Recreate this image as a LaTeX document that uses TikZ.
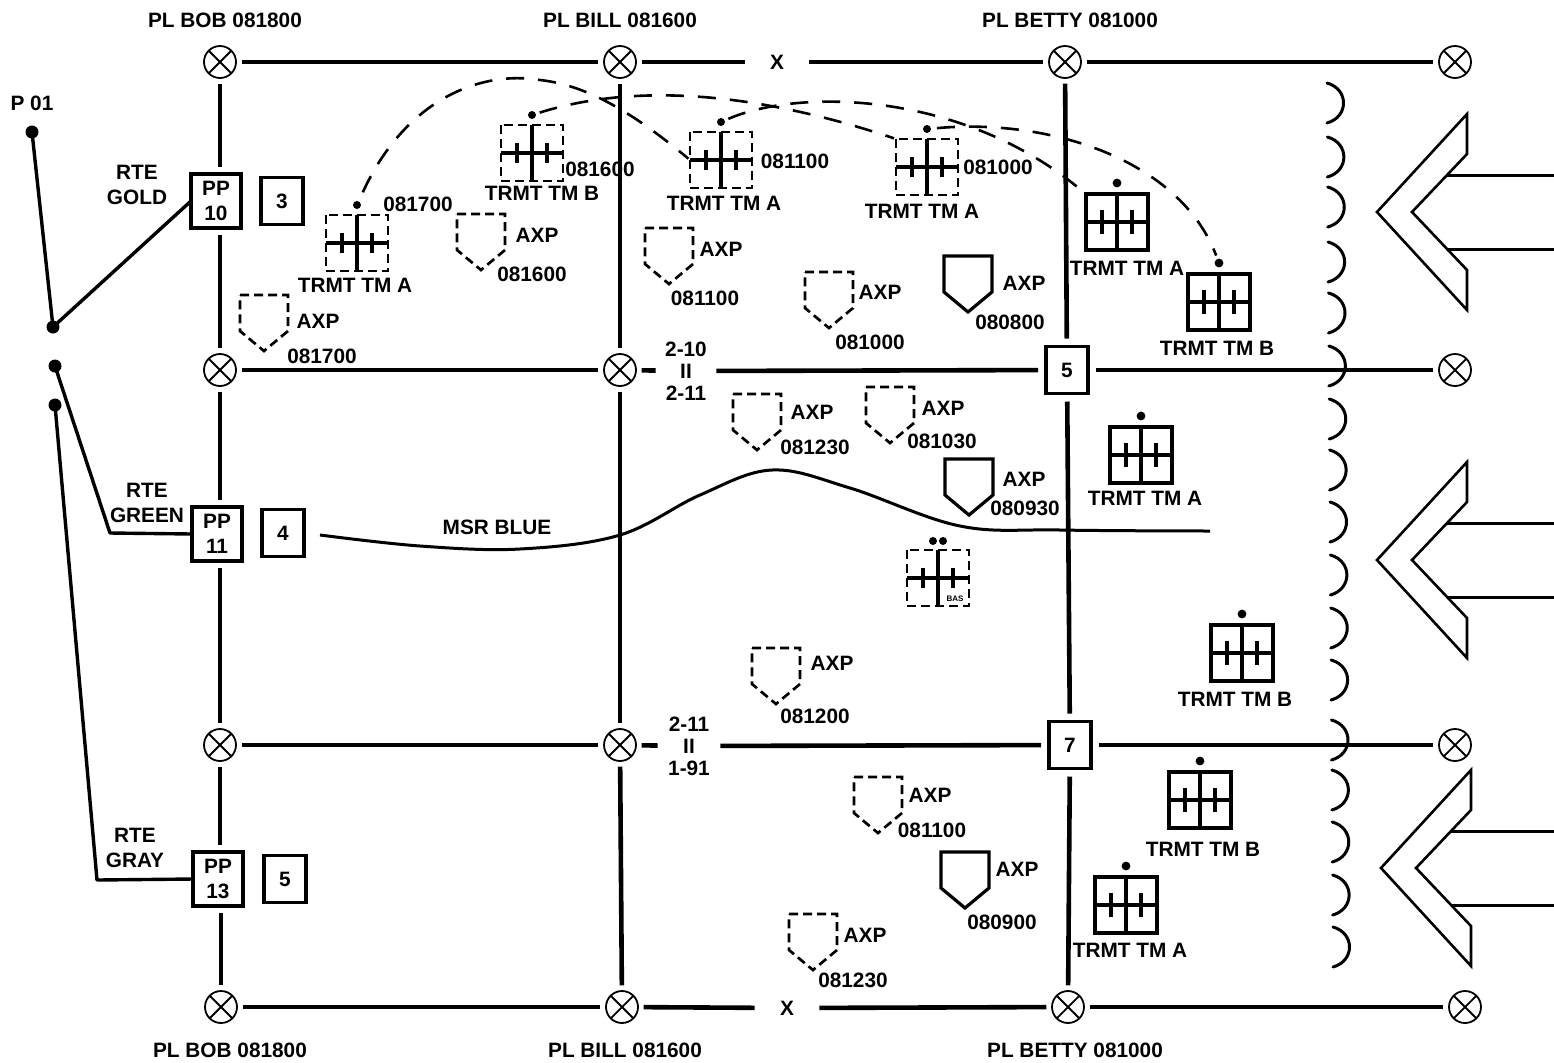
\documentclass[tikz,border=0pt]{standalone}
\usepackage{fontspec}
\setmainfont{Liberation Sans}
\usetikzlibrary{calc}
\begin{document}
\begin{tikzpicture}[x=0.5pt,y=-0.5pt,
 every node/.style={font=\bfseries\fontsize{10.4}{12.5}\selectfont},
 lab/.style={inner sep=0pt, align=center},
 cx/.style={circle, draw, line width=0.9pt, minimum size=16pt, inner sep=0pt, outer sep=2.8pt,
   path picture={\draw[line width=0.9pt] (path picture bounding box.north west) -- (path picture bounding box.south east)
     (path picture bounding box.north east) -- (path picture bounding box.south west);}},
 grid/.style={line width=2.3pt},
 route/.style={line width=1.7pt, line join=round},
 msr/.style={line width=1.5pt},
 ppbox/.style={draw, line width=1.6pt, minimum width=25pt, minimum height=27pt, inner sep=0pt, outer sep=0pt, align=center},
 numbox/.style={draw, line width=1.6pt, minimum width=21pt, minimum height=23.5pt, inner sep=0pt, outer sep=4pt},
 dotn/.style={circle, fill, inner sep=0pt, minimum size=6.5pt},
 dashbox/.style={line width=1.35pt, dash pattern=on 4.5pt off 2.5pt},
 solidbox/.style={line width=1.6pt},
 symline/.style={line width=1.6pt},
 dcurve/.style={line width=1.3pt, dash pattern=on 9pt off 7pt},
 arcl/.style={line width=1.5pt, line cap=round},
 chevl/.style={line width=1.3pt, line join=miter},
 chevr/.style={line width=1.5pt},
 tmdash/.pic={
   \draw[dashbox] (-31,-28) rectangle (31,28);
   \draw[symline] (0,-28) -- (0,28) (-31,0) -- (31,0) (-15,-10) -- (-15,10) (15,-10) -- (15,10);
   \fill (0,-38) circle (2pt);
   \coordinate (-dot) at (0,-38);
   \coordinate (-w) at (-31,0);
   \coordinate (-nw) at (-31,-28);
 },
 basdash/.pic={
   \draw[dashbox] (-31,-28) rectangle (31,28);
   \draw[symline] (0,-28) -- (0,28) (-31,0) -- (31,0) (-15,-10) -- (-15,10) (15,-10) -- (15,10);
   \fill (-5,-37) circle (2pt) (5,-37) circle (2pt);
   \node[inner sep=0pt, font=\bfseries\fontsize{4}{4}\selectfont] (-t) at (17,21) {BAS};
 },
 tmsolid/.pic={
   \draw[solidbox] (-31,-28) rectangle (31,28);
   \draw[symline] (0,-28) -- (0,28) (-31,0) -- (31,0) (-15,-12) -- (-15,12) (15,-12) -- (15,12);
   \fill (0,-39) circle (2.2pt);
   \coordinate (-dot) at (0,-39);
   \coordinate (-nw) at (-31,-28);
 },
 axpd/.pic={\draw[dashbox] (-24,-28) -- (24,-28) -- (24,8) -- (0,28) -- (-24,8) -- cycle;},
 axps/.pic={\draw[solidbox] (-24,-28) -- (24,-28) -- (24,8) -- (0,28) -- (-24,8) -- cycle;},
 chev/.pic={
   \draw[chevl] (0,-98) -- (-90,0) -- (0,98) -- (0,58) -- (-55,0) -- (0,-58) -- cycle;
   \draw[chevr] (-20,-37) -- (90,-37) (-20,37) -- (90,37);
 }
]
\useasboundingbox (0,0) rectangle (1554,1062);

% phase line circles
\node[cx] (t1) at (220,62) {};
\node[cx] (t2) at (620,62) {};
\node[cx] (t3) at (1065,62) {};
\node[cx] (t4) at (1455,62) {};
\node[cx] (m1) at (220,370) {};
\node[cx] (m2) at (620,370) {};
\node[cx] (m4) at (1455,370) {};
\node[cx] (u1) at (220,745) {};
\node[cx] (u2) at (620,745) {};
\node[cx] (u4) at (1455,745) {};
\node[cx] (b1) at (221,1007) {};
\node[cx] (b2) at (622,1007) {};
\node[cx] (b3) at (1068,1007) {};
\node[cx] (b4) at (1465,1007) {};

% boxes
\node[ppbox] (pp10) at (216,201) {PP\\10};
\node[ppbox] (pp11) at (217,534) {PP\\11};
\node[ppbox] (pp13) at (218,879) {PP\\13};
\node[numbox] (bx3) at (282,201) {3};
\node[numbox] (bx4) at (283,533) {4};
\node[numbox] (bx5a) at (285,879) {5};
\node[numbox] (bx5) at (1067,370) {5};
\node[numbox] (bx7) at (1070,745) {7};

% labels interrupting lines
\node[lab, minimum width=32pt] (xt) at (777,62) {X};
\node[lab, minimum width=32pt] (xb) at (787,1008) {X};
\node[lab, minimum width=30pt, font=\bfseries\fontsize{10.4}{11}\selectfont] (la1) at (686,371) {2-10\\II\\2-11};
\node[lab, minimum width=31pt, font=\bfseries\fontsize{10.4}{11}\selectfont] (la2) at (689,746) {2-11\\II\\1-91};

% horizontal lines
\draw[grid] (t1) -- (t2);
\draw[grid] (t2) -- (xt);
\draw[grid] (xt) -- (t3);
\draw[grid] (t3) -- (t4);
\draw[grid] (m1) -- (m2);
\draw[grid] (m2) -- (la1);
\draw[grid] (la1) -- (bx5);
\draw[grid] (bx5) -- (m4);
\draw[grid] (u1) -- (u2);
\draw[grid] (u2) -- (la2);
\draw[grid] (la2) -- (bx7);
\draw[grid] (bx7) -- (u4);
\draw[grid] (b1) -- (b2);
\draw[grid] (b2) -- (xb);
\draw[grid] (xb) -- (b3);
\draw[grid] (b3) -- (b4);

% vertical lines
\draw[grid, shorten >=3.5pt] (t1) -- (t1 |- pp10.north);
\draw[grid, shorten <=3.5pt] (m1 |- pp10.south) -- (m1);
\draw[grid, shorten >=3.5pt] (m1) -- (m1 |- pp11.north);
\draw[grid, shorten <=3.5pt] (u1 |- pp11.south) -- (u1);
\draw[grid, shorten >=3.5pt] (u1) -- (u1 |- pp13.north);
\draw[grid, shorten <=3.5pt] (b1 |- pp13.south) -- (b1);
\draw[grid] (t2) -- (m2);
\draw[grid] (m2) -- (u2);
\draw[grid] (u2) -- (b2);
\draw[grid] (t3) -- (bx5);
\draw[grid] (bx5) -- (bx7);
\draw[grid] (bx7) -- (b3);

% routes
\node[dotn] (p01) at (32,132) {};
\node[dotn] (d1) at (53,327) {};
\node[dotn] (d2) at (55,366) {};
\node[dotn] (d3) at (55,405) {};
\coordinate (g1) at (110,533);
\coordinate (g2) at (97,880);
\draw[route] (p01.center) -- (d1.center) -- (pp10.west);
\draw[route] (d2.center) -- (g1) -- (pp11.west);
\draw[route] (d3.center) -- (g2) -- (pp13.west);

% MSR BLUE
\draw[msr] plot[smooth, tension=0.6] coordinates {(320,535) (420,546) (520,549) (620,535) (700,495) (772,470) (850,488) (960,526) (1060,530) (1210,531)};

% treatment team symbols
\pic (tA1) at (357,243) {tmdash};
\pic (tB1) at (532,153) {tmdash};
\pic (tA2) at (721,160) {tmdash};
\pic (tA3) at (927,167) {tmdash};
\pic (bas) at (938,578) {basdash};
\pic (sA1) at (1117,222) {tmsolid};
\pic (sB1) at (1219,302) {tmsolid};
\pic (sA2) at (1141,455) {tmsolid};
\pic (sB2) at (1242,653) {tmsolid};
\pic (sB3) at (1200,800) {tmsolid};
\pic (sA3) at (1126,905) {tmsolid};

% movement curves
\draw[dcurve, shorten <=7pt, shorten >=1pt] (tA1-dot) .. controls (405,100) and (480,70) .. (540,80) .. controls (585,85) and (630,110) .. (tA2-w);
\draw[dcurve, shorten <=4pt, shorten >=1pt] (tB1-dot) .. controls (650,78) and (780,100) .. (tA3-nw);
\draw[dcurve, shorten <=4pt, shorten >=6pt] (tA2-dot) .. controls (800,88) and (960,92) .. (sA1-nw);
\draw[dcurve, shorten <=5pt, shorten >=4pt] (tA3-dot) .. controls (1050,118) and (1180,160) .. (sB1-dot);

% AXP symbols
\pic (ax1) at (264,323) {axpd};
\pic (ax2) at (481,242) {axpd};
\pic (ax3) at (669,256) {axpd};
\pic (ax4) at (829,300) {axpd};
\pic (ax5) at (968,284) {axps};
\pic (ax6) at (757,422) {axpd};
\pic (ax7) at (890,415) {axpd};
\pic (ax8) at (969,487) {axps};
\pic (ax9) at (776,676) {axpd};
\pic (ax10) at (878,805) {axpd};
\pic (ax11) at (965,880) {axps};
\pic (ax12) at (813,942) {axpd};

% scalloped line
\foreach \yy [count=\i] in {103,157,207,262,313,366,419,470,522,575,628,680,740,790,842,895,947} {
  \pgfmathsetmacro\xx{1327+(\i-1)*0.375}
  \draw[arcl] (\xx,\yy-20) .. controls (\xx+22,\yy-14) and (\xx+22,\yy+14) .. (\xx,\yy+20);
}

% chevron arrows
\pic (ch1) at (1467,212) {chev};
\pic (ch2) at (1467,560) {chev};
\pic (ch3) at (1471,868) {chev};

% text labels
\foreach \x/\y/\t [count=\i] in {
 225/20/PL BOB 081800, 620/20/PL BILL 081600, 1070/20/PL BETTY 081000,
 230/1050/PL BOB 081800, 625/1050/PL BILL 081600, 1075/1050/PL BETTY 081000,
 32/103/P 01, 137/185/{RTE\\GOLD}, 147/503/{RTE\\GREEN}, 135/848/{RTE\\GRAY},
 497/527/MSR BLUE,
 418/204/081700, 355/285/TRMT TM A, 600/169/081600, 542/193/TRMT TM B,
 795/161/081100, 724/203/TRMT TM A, 998/167/081000, 922/211/TRMT TM A,
 1127/268/TRMT TM A, 1217/348/TRMT TM B, 1145/498/TRMT TM A, 1235/699/TRMT TM B,
 1203/849/TRMT TM B, 1130/950/TRMT TM A,
 318/321/AXP, 322/356/081700, 537/235/AXP, 532/274/081600,
 721/249/AXP, 705/298/081100, 880/292/AXP, 870/342/081000,
 1024/283/AXP, 1010/322/080800, 812/412/AXP, 815/447/081230,
 943/408/AXP, 942/441/081030, 1024/479/AXP, 1025/508/080930,
 832/663/AXP, 815/716/081200, 930/795/AXP, 932/830/081100,
 1017/869/AXP, 1002/922/080900, 865/935/AXP, 853/980/081230} {
  \node[lab] (L\i) at (\x,\y) {\t};
}
\end{tikzpicture}
\end{document}
